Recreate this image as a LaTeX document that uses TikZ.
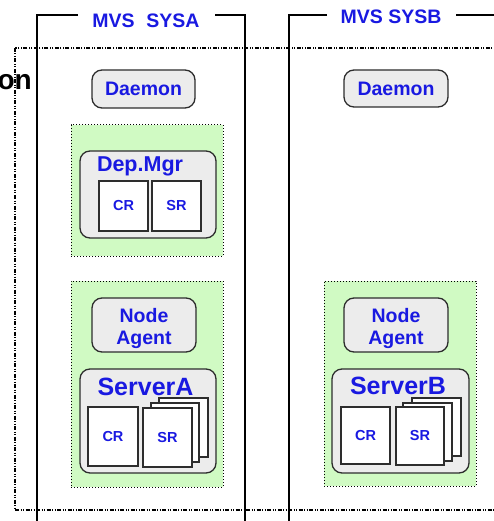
\documentclass[tikz,border=0pt]{standalone}
\usepackage{fontspec}
\setmainfont{Liberation Sans}
\definecolor{tblue}{RGB}{25,25,225}
\definecolor{pgreen}{RGB}{208,250,195}
\definecolor{boxgray}{RGB}{236,236,236}
\definecolor{edgegray}{RGB}{45,45,45}
\begin{document}
\begin{tikzpicture}[x=1pt,y=-1pt,
  frame/.style={draw=black,line width=1.3pt},
  outer/.style={draw=black,line width=1.1pt,dash pattern=on 4pt off 1.5pt on 1pt off 1.5pt on 1pt off 1.5pt},
  greenbox/.style={draw=black,fill=pgreen,line width=1pt,dotted,minimum width=152pt,inner sep=0pt},
  rbox/.style={draw=edgegray,fill=boxgray,line width=1.3pt,rounded corners=10pt,inner sep=0pt,text=tblue,font=\bfseries\fontsize{19.5}{23}\selectfont,align=center},
  sbox/.style={draw=edgegray,fill=white,line width=1.3pt,inner sep=0pt,text=tblue,font=\bfseries\fontsize{14.5}{17}\selectfont},
  ttl/.style={text=tblue,font=\bfseries\fontsize{19.5}{23}\selectfont,anchor=base,inner sep=0pt},
  bigttl/.style={text=tblue,font=\bfseries\fontsize{25}{28}\selectfont,anchor=base,inner sep=0pt}
]
\useasboundingbox (0,0) rectangle (494,521);
\clip (0,0) rectangle (494,521);

% outer dash-dot region
\draw[outer] (15,48) rectangle (520,510);
\node[anchor=base east,inner sep=0pt,font=\bfseries\fontsize{28}{32}\selectfont] (cut) at (32,90) {on};

% system frames
\draw[frame] (78,15) -- (37,15) -- (37,530);
\draw[frame] (215,15) -- (245,15) -- (245,530);
\draw[frame] (327,15) -- (289,15) -- (289,530);
\draw[frame] (456,15) -- (520,15);
\node[ttl] (sysa) at (146,28) {MVS\hspace{0.6em}SYSA};
\node[ttl] (sysb) at (391,24) {MVS SYSB};

% daemons
\node[rbox,minimum width=103pt,minimum height=38pt] (daemonA) at (143.5,89) {Daemon};
\node[rbox,minimum width=104pt,minimum height=37pt] (daemonB) at (396,88.5) {Daemon};

% Dep.Mgr area
\node[greenbox,minimum height=131pt] (gA1) at (147,190.5) {};
\node[rbox,minimum width=136pt,minimum height=87pt] (depmgr) at (148,194.5) {};
\node[bigttl,font=\bfseries\fontsize{21.5}{24}\selectfont] (depmgrT) at (140,172) {Dep.Mgr};
\node[sbox,minimum width=49pt,minimum height=50pt] (crD) at (123.5,206) {CR};
\node[sbox,minimum width=49pt,minimum height=50pt] (srD) at (176.5,206) {SR};

% Node agent / server A
\node[greenbox,minimum height=206pt] (gA2) at (147,384) {};
\node[rbox,minimum width=104pt,minimum height=54pt] (naA) at (144,325) {};
\node[ttl] (naA1) at (144,322) {Node};
\node[ttl] (naA2) at (144,344.5) {Agent};
\node[rbox,minimum width=136pt,minimum height=104pt] (srvA) at (148,421) {};
\node[bigttl] (srvAT) at (145.5,395) {ServerA};
\node[sbox,minimum width=50pt,minimum height=59pt] (crA) at (113,436.5) {CR};
\node[sbox,minimum width=49pt,minimum height=59pt] (srA3) at (183.5,427.5) {};
\node[sbox,minimum width=48pt,minimum height=59pt] (srA2) at (175,432.5) {};
\node[sbox,minimum width=49pt,minimum height=59pt] (srA1) at (167.5,437.5) {SR};

% Node agent / server B
\node[greenbox,minimum height=205pt] (gB) at (400,383.5) {};
\node[rbox,minimum width=104pt,minimum height=54pt] (naB) at (396,325) {};
\node[ttl] (naB1) at (396,322) {Node};
\node[ttl] (naB2) at (396,344.5) {Agent};
\node[rbox,minimum width=137pt,minimum height=104pt] (srvB) at (400.5,421) {};
\node[bigttl] (srvBT) at (398,394) {ServerB};
\node[sbox,minimum width=49pt,minimum height=57pt] (crB) at (365.5,435.5) {CR};
\node[sbox,minimum width=49pt,minimum height=58pt] (srB3) at (436.5,427) {};
\node[sbox,minimum width=49pt,minimum height=58pt] (srB2) at (427.5,432) {};
\node[sbox,minimum width=48pt,minimum height=58pt] (srB1) at (420,436) {SR};
\end{tikzpicture}
\end{document}
